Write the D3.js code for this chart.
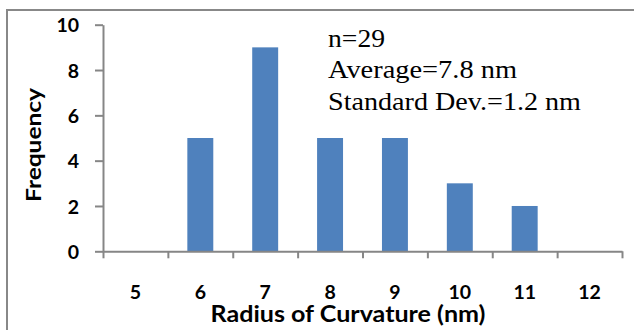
<!DOCTYPE html>
<html>
<head>
<meta charset="utf-8">
<script src="https://cdn.jsdelivr.net/npm/d3@7"></script>
<style>
  html, body { margin: 0; padding: 0; background: #fff; }
  svg { display: block; }
</style>
</head>
<body>
<svg id="chart" width="634" height="330"></svg>
<script>
const categories = ["5", "6", "7", "8", "9", "10", "11", "12"];
const frequencies = [0, 5, 9, 5, 5, 3, 2, 0];
const yTicks = [0, 2, 4, 6, 8, 10];
const annotationLines = ["n=29", "Average=7.8 nm", "Standard Dev.=1.2 nm"];
const xTitle = "Radius of Curvature (nm)";
const yTitle = "Frequency";

const svg = d3.select("#chart");
const axisColor = "#868686";
const barColor = "#4F81BD";
const sansFont = "Lato, 'Open Sans', sans-serif";

// outer border (chart area frame)
svg.append("rect")
  .attr("x", 7).attr("y", 10)
  .attr("width", 700).attr("height", 400)
  .attr("fill", "#fff")
  .attr("stroke", "#888")
  .attr("stroke-width", 2);

const plot = { left: 103, right: 622, top: 24.7, bottom: 251.3 };

const x = d3.scaleBand()
  .domain(categories)
  .range([plot.left, plot.right])
  .paddingInner(0.6)
  .paddingOuter(0.3);

const xEdges = d3.scaleLinear()
  .domain([0, categories.length])
  .range([plot.left, plot.right]);

const y = d3.scaleLinear()
  .domain([0, 10])
  .range([plot.bottom, plot.top]);

// bars
svg.append("g")
  .selectAll("rect")
  .data(categories.map((c, i) => ({ c, v: frequencies[i] })))
  .join("rect")
  .attr("x", d => x(d.c))
  .attr("y", d => y(d.v))
  .attr("width", x.bandwidth())
  .attr("height", d => y(0) - y(d.v))
  .attr("fill", barColor);

// y axis
const yAxis = svg.append("g")
  .attr("transform", `translate(${plot.left},0)`)
  .call(d3.axisLeft(y).tickValues(yTicks).tickSize(8).tickSizeOuter(0).tickPadding(16));
yAxis.selectAll("path, line").attr("stroke", axisColor).attr("stroke-width", 2);
yAxis.selectAll("text")
  .attr("fill", "#000")
  .attr("dy", "0.36em")
  .style("font-family", sansFont)
  .style("font-weight", "bold")
  .style("font-size", "19.5px");

// x axis line with boundary ticks
const xAxis = svg.append("g")
  .attr("transform", `translate(0,${plot.bottom})`)
  .call(d3.axisBottom(xEdges).tickValues(d3.range(categories.length + 1)).tickSize(7).tickSizeOuter(0).tickFormat(""));
xAxis.selectAll("path, line").attr("stroke", axisColor).attr("stroke-width", 2);

// x category labels
const xLabels = svg.append("g")
  .attr("transform", `translate(0,${plot.bottom})`)
  .call(d3.axisBottom(x).tickSize(0).tickPadding(0));
xLabels.select(".domain").remove();
xLabels.selectAll("text")
  .attr("y", 48)
  .attr("dy", 0)
  .attr("fill", "#000")
  .style("font-family", sansFont)
  .style("font-weight", "bold")
  .style("font-size", "19.5px");

// axis titles
svg.append("text")
  .attr("x", 348).attr("y", 322)
  .attr("text-anchor", "middle")
  .attr("textLength", 275)
  .attr("lengthAdjust", "spacingAndGlyphs")
  .style("font-family", sansFont)
  .style("font-weight", "bold")
  .style("font-size", "22px")
  .text(xTitle);

svg.append("text")
  .attr("transform", "translate(41,145) rotate(-90)")
  .attr("text-anchor", "middle")
  .attr("textLength", 114)
  .attr("lengthAdjust", "spacingAndGlyphs")
  .style("font-family", sansFont)
  .style("font-weight", "bold")
  .style("font-size", "21px")
  .text(yTitle);

// annotation
const annWidths = [57, 189, 253];
svg.append("g")
  .selectAll("text")
  .data(annotationLines)
  .join("text")
  .attr("x", 328)
  .attr("y", (d, i) => 46.5 + i * 31.5)
  .attr("textLength", (d, i) => annWidths[i])
  .attr("lengthAdjust", "spacingAndGlyphs")
  .style("font-family", "'Liberation Serif', 'Times New Roman', serif")
  .style("font-size", "24.5px")
  .attr("fill", "#000")
  .text(d => d);
</script>
</body>
</html>
